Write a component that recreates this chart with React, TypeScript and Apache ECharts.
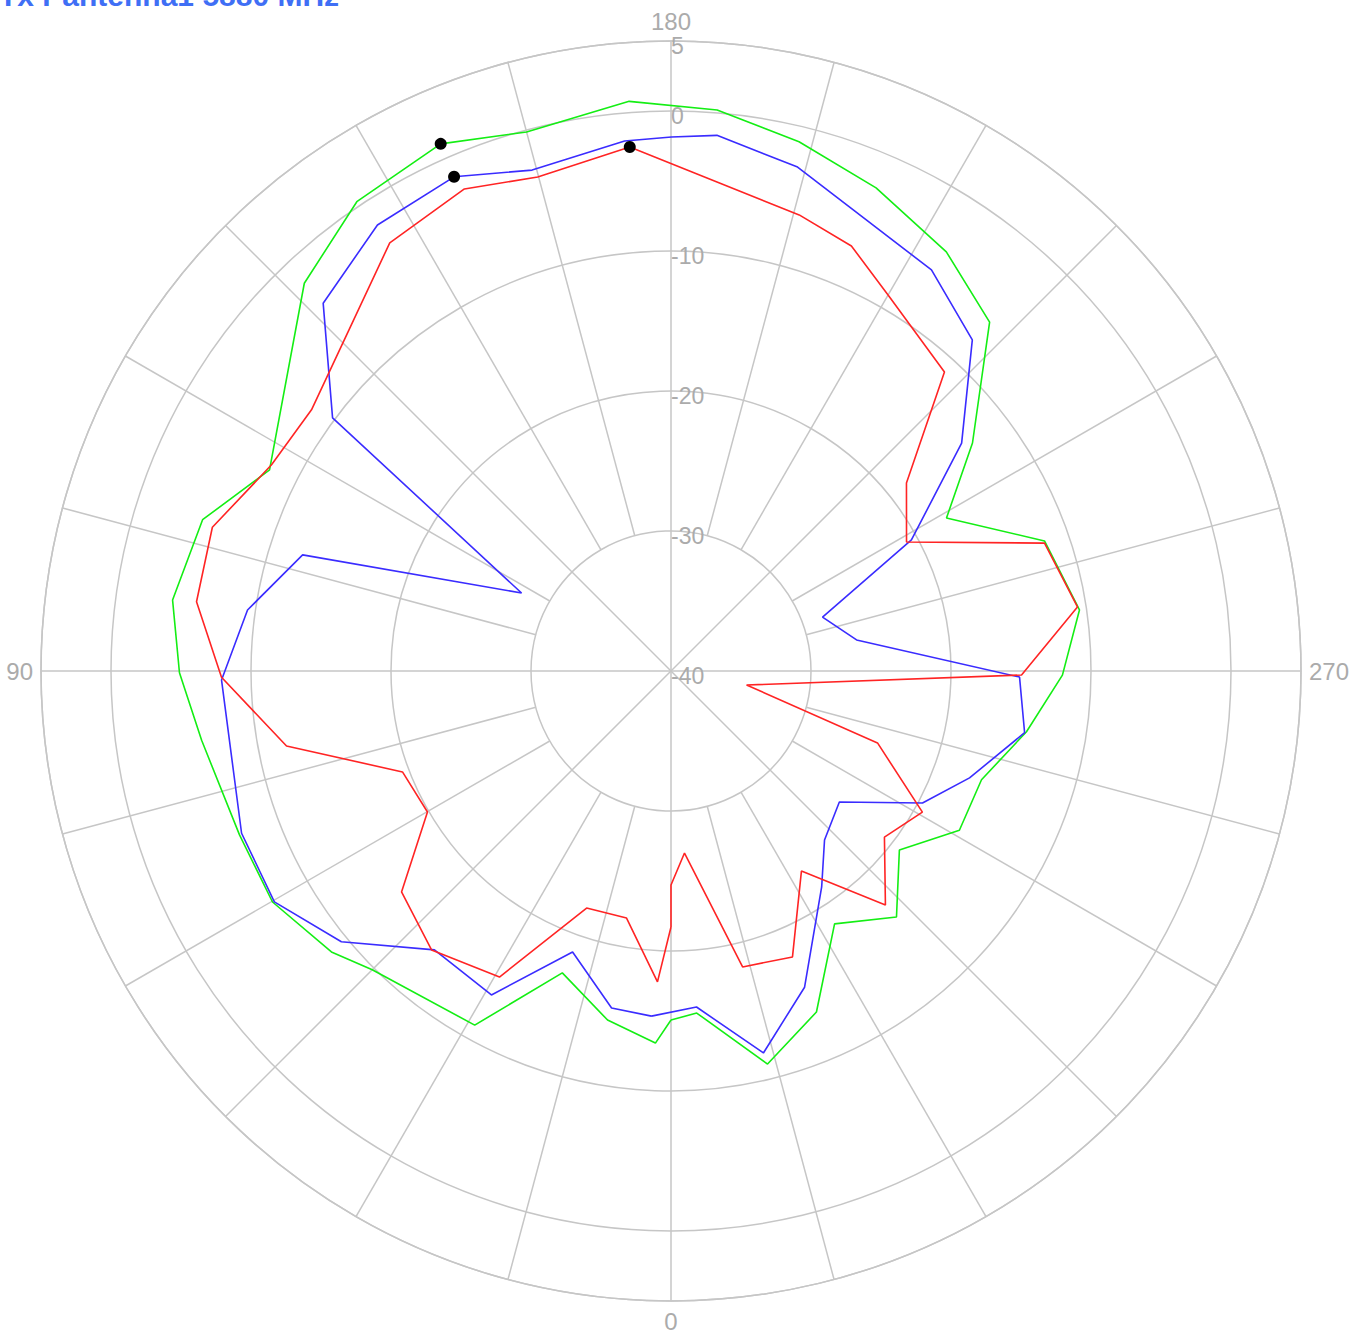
import React, { useEffect, useRef } from 'react';
import * as echarts from 'echarts';

const TITLE = 'Tx Pantenna1 5880 MHz';

const RADIUS_MIN = -40;
const RADIUS_MAX = 5;
const RADIUS_STEP = 10;
const ANGLE_LABEL_STEP = 90;
const SPOKE_ANGLES = [0, 15, 30, 45, 60, 75, 90, 105, 120, 135, 150, 165, 180, 195, 210, 225, 240, 255, 270, 285, 300, 315, 330, 345];

const greenAngles = [0, 2.4, 10.3, 19.8, 29.0, 45.0, 50.4, 59.9, 69.2, 81.6, 89.8, 98.1, 107.9, 116.6, 136.6, 146.2, 156.4, 165.0, 175.8, 184.7, 193.6, 203.0, 213.3, 222.4, 232.9, 240.95, 250.8, 261.5, 270.6, 279.7, 289.3, 298.9, 308.1, 317.5, 327.1, 336.9, 346.2, 355.7];
const greenValues = [-15.07, -13.4, -14.66, -17.08, -11.08, -9.82, -8.52, -7.1, -7.03, -6.11, -4.89, -4.04, -4.84, -7.93, -1.88, 0.34, 1.09, -0.14, 0.8, 0.21, -1.11, -2.51, -4.18, -6.25, -13.0, -17.49, -11.75, -10.5, -12.04, -14.24, -16.5, -16.47, -19.27, -16.16, -18.49, -13.52, -11.09, -15.5];

const blueAngles = [3.24, 10.0, 19.3, 29.0, 40.3, 50.6, 59.8, 69.3, 88.85, 98.2, 107.5, 117.55, 126.8, 136.6, 146.65, 156.3, 164.5, 175.0, 180.05, 184.9, 194.1, 213.0, 222.3, 231.9, 241.4, 250.4, 260.5, 271.0, 279.9, 289.7, 297.7, 307.9, 317.75, 325.1, 337.1, 346.4, 355.66];
const blueValues = [-15.31, -15.56, -18.73, -13.54, -13.88, -9.53, -7.22, -7.21, -7.89, -9.44, -12.41, -27.96, -9.81, -3.84, -1.86, -1.45, -2.87, -2.0, -1.86, -1.6, -2.89, -5.84, -8.02, -13.62, -20.44, -28.51, -26.56, -15.1, -14.36, -17.35, -19.71, -24.76, -23.69, -21.19, -15.48, -11.93, -15.93];

const redAngles = [0, 2.49, 10.2, 19.6, 29.27, 40.64, 50.65, 59.93, 69.4, 78.96, 89.2, 98.3, 107.4, 117.3, 126.0, 146.7, 156.8, 164.9, 175.5, 195.7, 203.0, 210.3, 222.45, 231.4, 241.3, 251.1, 261.05, 270.65, 280.5, 289.2, 299.3, 307.9, 317.5, 326.9, 336.98, 346.4, 355.76, 360];
const redValues = [-21.71, -17.77, -22.07, -22.03, -14.94, -13.74, -15.11, -19.9, -19.51, -12.02, -7.89, -5.75, -5.67, -7.89, -8.26, -3.41, -2.54, -3.45, -2.46, -6.16, -7.02, -9.06, -11.06, -18.48, -20.82, -11.8, -10.61, -14.96, -34.51, -24.38, -19.41, -20.68, -17.33, -22.94, -17.81, -18.25, -26.96, -24.71];

const GRID = '#c6c6c6';
const LABEL = '#ababab';
const CX = 671;
const CY = 671;
const R = 630;

function closedPairs(angles: number[], values: number[]) {
  const pairs = angles.map((a, i) => [values[i], a]);
  pairs.push([values[0], angles[0]]);
  return pairs;
}

function peak(angles: number[], values: number[]) {
  let k = 0;
  values.forEach((v, i) => {
    if (v > values[k]) k = i;
  });
  return [values[k], angles[k]];
}

export default function App() {
  const ref = useRef<HTMLDivElement>(null);
  useEffect(() => {
    if (!ref.current) return;
    const chart = echarts.init(ref.current, undefined, { renderer: 'svg' });
    const lineSeries = (name: string, color: string, angles: number[], values: number[]) => ({
      name,
      type: 'line',
      coordinateSystem: 'polar',
      polarIndex: 0,
      data: closedPairs(angles, values),
      showSymbol: false,
      symbol: 'none',
      lineStyle: { color, width: 1.6 },
      itemStyle: { color },
      z: 3,
      silent: true,
    });
    chart.setOption({
      animation: false,
      graphic: [
        {
          type: 'text',
          x: -1,
          y: -5,
          style: {
            text: TITLE,
            fill: '#3f6ff5',
            font: 'bold 30px "Liberation Sans", Arial, sans-serif',
            verticalAlign: 'middle',
            align: 'left',
          },
        },
      ],
      polar: [
        { center: [CX, CY], radius: R },
        { center: [CX, CY], radius: R },
      ],
      angleAxis: [
        {
          polarIndex: 0,
          type: 'value',
          min: 0,
          max: 360,
          interval: ANGLE_LABEL_STEP,
          startAngle: 270,
          clockwise: true,
          axisLine: { show: true, lineStyle: { color: GRID, width: 1.5 } },
          axisTick: { show: false },
          splitLine: { show: false },
          axisLabel: {
            show: true,
            color: LABEL,
            fontSize: 24,
            fontFamily: '"Liberation Sans", Arial, sans-serif',
            margin: 8,
          },
        },
        {
          polarIndex: 1,
          type: 'value',
          min: 0,
          max: 360,
          startAngle: 90,
          show: false,
        },
      ],
      radiusAxis: [
        {
          polarIndex: 0,
          type: 'value',
          min: RADIUS_MIN,
          max: RADIUS_MAX,
          interval: RADIUS_STEP,
          axisLine: { show: false },
          axisTick: { show: false },
          axisLabel: { show: false },
          splitLine: { show: true, lineStyle: { color: GRID, width: 1.5 } },
        },
        {
          polarIndex: 1,
          type: 'value',
          min: RADIUS_MIN,
          max: RADIUS_MAX,
          interval: RADIUS_STEP,
          axisLine: { show: false },
          axisTick: { show: false },
          splitLine: { show: false },
          axisLabel: {
            show: true,
            color: LABEL,
            fontSize: 23,
            fontFamily: '"Liberation Sans", Arial, sans-serif',
            align: 'left',
            verticalAlign: 'top',
            lineHeight: 10,
            margin: 0,
          },
          z: 4,
        },
      ],
      series: [
        {
          type: 'custom',
          coordinateSystem: 'polar',
          polarIndex: 0,
          silent: true,
          z: 1,
          data: SPOKE_ANGLES.map((a) => [RADIUS_MAX, a]),
          renderItem: (params: any, api: any) => {
            const a = api.value(1);
            const inner = a % 45 === 0 ? RADIUS_MIN : RADIUS_MIN + RADIUS_STEP;
            const p1 = api.coord([inner, a]);
            const p2 = api.coord([RADIUS_MAX, a]);
            return {
              type: 'line',
              shape: { x1: p1[0], y1: p1[1], x2: p2[0], y2: p2[1] },
              style: { stroke: GRID, lineWidth: 1.5 },
            };
          },
        },
        lineSeries('green', '#14ee14', greenAngles, greenValues),
        lineSeries('blue', '#3a2cff', blueAngles, blueValues),
        lineSeries('red', '#ff2424', redAngles, redValues),
        {
          type: 'scatter',
          coordinateSystem: 'polar',
          polarIndex: 0,
          symbol: 'circle',
          symbolSize: 12,
          itemStyle: { color: '#000000', opacity: 1 },
          z: 5,
          silent: true,
          data: [
            peak(greenAngles, greenValues),
            peak(blueAngles, blueValues),
            peak(redAngles, redValues),
          ],
        },
      ],
    });
    return () => chart.dispose();
  }, []);
  return (
    <div
      ref={ref}
      style={{ position: 'absolute', left: 0, top: 0, width: 1364, height: 1343 }}
    />
  );
}
